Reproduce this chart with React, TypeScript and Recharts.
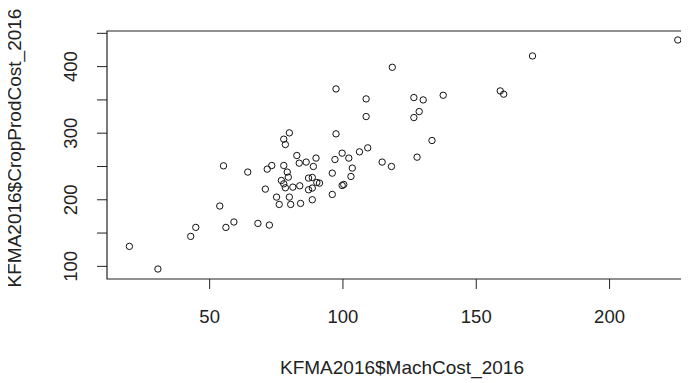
import { ScatterChart, Scatter, XAxis, YAxis, ReferenceArea } from 'recharts'

// KFMA 2016 farm records, per-acre costs
const machCost = [
  19.9, 30.6, 42.9, 44.8, 53.8, 55.2, 56.1, 59.1, 64.3, 68.1,
  72.4, 70.9, 71.6, 73.3, 75.1, 76.1, 77.8, 79.1, 79.5, 76.9,
  77.8, 78.4, 79.9, 80.4, 81.2, 83.8, 84.1, 82.7, 83.6, 86.2,
  88.9, 89.9, 87.1, 88.5, 87.1, 88.5, 88.5, 90.2, 91.2, 96.0,
  96.0, 97.0, 99.7, 102.2, 103.5, 103.0, 99.7, 100.3, 106.2, 109.3,
  114.7, 118.2, 78.4, 77.8, 79.9, 97.4, 97.4, 108.7, 108.7, 118.5,
  225.6, 171.1, 126.6, 130.1, 137.6, 159.0, 160.3, 128.6, 126.6, 133.4,
  127.8,
]

const cropProdCost = [
  130, 96, 145, 158.5, 190.6, 251, 158.5, 166.6, 241.6, 164.5,
  162, 216, 246, 251.5, 204, 193, 251.5, 241.6, 234, 229,
  224, 218, 204, 193, 219, 221, 194.5, 266.5, 255, 256.6,
  250, 262.6, 232.6, 233.5, 215, 217.6, 200, 226, 225, 240,
  208, 260.5, 270, 262.6, 247.6, 235, 221.5, 223, 272, 278,
  256.6, 250, 283, 291, 300.5, 299, 366.5, 351.5, 325, 399,
  440, 416, 353.5, 350, 357, 363.5, 358.6, 332.5, 323.5, 289,
  264,
]

const xTicks = [50, 100, 150, 200]
const yTicks = [100, 150, 200, 250, 300, 350, 400, 450]
const yLabelled = [100, 200, 300, 400]

const xDomain: [number, number] = [11.5, 234.3]
const yDomain: [number, number] = [81, 453.5]

const points = machCost.map((x, i) => ({ x, y: cropProdCost[i] }))

const FONT = '"Liberation Sans", Arial, sans-serif'
const INK = '#222'

function XTick({ x, y, payload }: any) {
  return (
    <text x={x} y={y + 32} textAnchor="middle" fontSize={18.5} fill={INK} fontFamily={FONT}>
      {payload.value}
    </text>
  )
}

function YTick({ x, y, payload }: any) {
  if (!yLabelled.includes(payload.value)) return null
  const bx = x - 18
  return (
    <text x={bx} y={y} transform={`rotate(-90, ${bx}, ${y})`} textAnchor="middle" fontSize={18.5} fill={INK} fontFamily={FONT}>
      {payload.value}
    </text>
  )
}

function Ring({ cx, cy }: any) {
  return <circle cx={cx} cy={cy} r={3.2} fill="none" stroke="#111" strokeWidth={1} />
}

export default function App() {
  return (
    <div style={{ margin: '-8px 0 0 -8px', width: 689, height: 383, overflow: 'hidden', background: '#fff' }}>
      <ScatterChart width={710} height={383} margin={{ top: 31, right: 9, bottom: 0, left: 0 }}>
        <XAxis
          type="number"
          dataKey="x"
          domain={xDomain}
          ticks={xTicks}
          allowDataOverflow
          height={104}
          axisLine={false}
          tickSize={10}
          tickLine={{ stroke: INK }}
          tick={<XTick />}
          label={({ viewBox }: any) => (
            <text x={viewBox.x + viewBox.width / 2 - 2} y={374} textAnchor="middle" fontSize={19} fill={INK} fontFamily={FONT}>
              KFMA2016$MachCost_2016
            </text>
          )}
        />
        <YAxis
          type="number"
          dataKey="y"
          domain={yDomain}
          ticks={yTicks}
          allowDataOverflow
          width={107}
          axisLine={false}
          tickSize={10}
          tickLine={{ stroke: INK }}
          tick={<YTick />}
          label={() => (
            <text x={20.5} y={148} transform="rotate(-90, 20.5, 148)" textAnchor="middle" fontSize={19} fill={INK} fontFamily={FONT}>
              KFMA2016$CropProdCost_2016
            </text>
          )}
        />
        <ReferenceArea
          x1={xDomain[0]}
          x2={xDomain[1]}
          y1={yDomain[0]}
          y2={yDomain[1]}
          fill="none"
          stroke={INK}
          strokeWidth={1.2}
          ifOverflow="visible"
        />
        <Scatter data={points} shape={<Ring />} isAnimationActive={false} />
      </ScatterChart>
    </div>
  )
}
